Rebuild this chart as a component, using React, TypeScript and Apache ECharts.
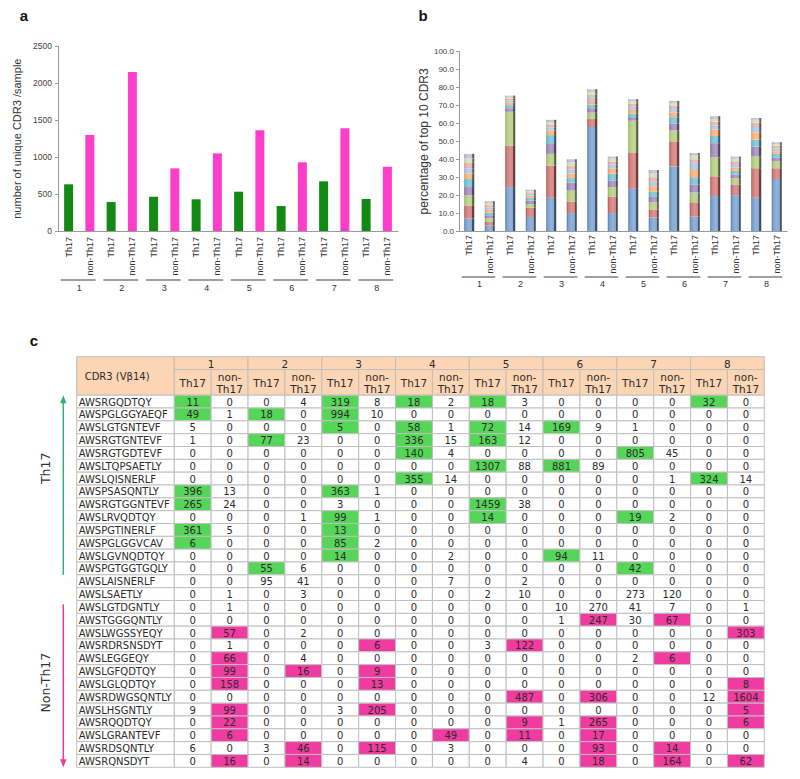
import React, { useEffect, useRef } from "react";
import * as echarts from "echarts";

// ---------- shared categories ----------
const SAMPLES = ["1", "2", "3", "4", "5", "6", "7", "8"];
const CELL_TYPES = ["Th17", "non-Th17"];

// ---------- panel a: number of unique CDR3 per sample ----------
const uniqueTh17 = [632, 392, 464, 429, 532, 338, 672, 433];
const uniqueNonTh17 = [1299, 2152, 848, 1051, 1363, 930, 1390, 870];

// ---------- panel b: % of reads taken by each of the top-10 CDR3 ----------
// bar order: Th17-1, non-Th17-1, Th17-2, non-Th17-2, ...
const top1 = [7, 3, 24.5, 7.8, 18.5, 10, 58, 10, 23.5, 7.5, 36, 8, 19.5, 20, 18.5, 29];
const top2 = [7, 2, 23, 5.2, 18, 6.5, 4.5, 9, 20, 4.5, 14, 8, 11, 6, 16.5, 6];
const top3 = [6, 2, 19, 2, 6.5, 6, 3.5, 5.5, 18, 4, 6, 5.5, 10.5, 3.5, 6.5, 4];
const top4 = [4.5, 1.8, 2, 2, 5.5, 4.5, 2.5, 3.5, 2, 3, 4, 4.5, 8, 2, 5.5, 2];
const top5 = [4.5, 1.5, 1.7, 1.5, 5, 2.5, 2, 4, 2, 3, 3.5, 4, 4, 2, 4, 2];
const top6 = [3, 1.5, 1.5, 1.2, 2.5, 2.5, 2, 3, 2, 3, 2.5, 4, 3.5, 2, 4, 1.5];
const top7 = [3, 1.3, 1.2, 1, 1.8, 2.2, 1.8, 2, 1.8, 2.5, 2, 4, 2.5, 1.8, 3, 1.5];
const top8 = [3, 1.3, 1, 0.9, 1.6, 2, 1.7, 1.8, 1.6, 2.5, 2, 2, 2, 1.6, 2.5, 1.5];
const top9 = [2.5, 1.2, 0.9, 0.7, 1.4, 2, 1.6, 1.5, 1.4, 2, 1.5, 2, 1.5, 1.4, 1.5, 1];
const top10 = [2.5, 1, 0.7, 0.7, 1.2, 1.8, 1.4, 1.2, 1.2, 2, 1, 1.5, 1.5, 1.2, 1, 1];

// ---------- panel c: CDR3 (Vβ14) read counts ----------
const cdr3Sequences = [
  "AWSRGQDTQY", "AWSPGLGGYAEQF", "AWSLGTGNTEVF", "AWSRGTGNTEVF", "AWSRGTGDTEVF",
  "AWSLTQPSAETLY", "AWSLQISNERLF", "AWSPSASQNTLY", "AWSRGTGGNTEVF", "AWSLRVQDTQY",
  "AWSPGTINERLF", "AWSPGLGGVCAV", "AWSLGVNQDTQY", "AWSPGTGGTGQLY", "AWSLAISNERLF",
  "AWSLSAETLY", "AWSLGTDGNTLY", "AWSTGGGQNTLY", "AWSLWGSSYEQY", "AWSRDRSNSDYT",
  "AWSLEGGEQY", "AWSLGFQDTQY", "AWSLGLQDTQY", "AWSRDWGSQNTLY", "AWSLHSGNTLY",
  "AWSRQQDTQY", "AWSLGRANTEVF", "AWSRDSQNTLY", "AWSRQNSDYT",
];
// columns: Th17-1, non-Th17-1, Th17-2, non-Th17-2, ... Th17-8, non-Th17-8
const countRows = [
  [11, 0, 0, 4, 319, 8, 18, 2, 18, 3, 0, 0, 0, 0, 32, 0],
  [49, 1, 18, 0, 994, 10, 0, 0, 0, 0, 0, 0, 0, 0, 0, 0],
  [5, 0, 0, 0, 5, 0, 58, 1, 72, 14, 169, 9, 1, 0, 0, 0],
  [1, 0, 77, 23, 0, 0, 336, 15, 163, 12, 0, 0, 0, 0, 0, 0],
  [0, 0, 0, 0, 0, 0, 140, 4, 0, 0, 0, 0, 805, 45, 0, 0],
  [0, 0, 0, 0, 0, 0, 0, 0, 1307, 88, 881, 89, 0, 0, 0, 0],
  [0, 0, 0, 0, 0, 0, 355, 14, 0, 0, 0, 0, 0, 1, 324, 14],
  [396, 13, 0, 0, 363, 1, 0, 0, 0, 0, 0, 0, 0, 0, 0, 0],
  [265, 24, 0, 0, 3, 0, 0, 0, 1459, 38, 0, 0, 0, 0, 0, 0],
  [0, 0, 0, 1, 99, 1, 0, 0, 14, 0, 0, 0, 19, 2, 0, 0],
  [361, 5, 0, 0, 13, 0, 0, 0, 0, 0, 0, 0, 0, 0, 0, 0],
  [6, 0, 0, 0, 85, 2, 0, 0, 0, 0, 0, 0, 0, 0, 0, 0],
  [0, 0, 0, 0, 14, 0, 0, 2, 0, 0, 94, 11, 0, 0, 0, 0],
  [0, 0, 55, 6, 0, 0, 0, 0, 0, 0, 0, 0, 42, 0, 0, 0],
  [0, 0, 95, 41, 0, 0, 0, 7, 0, 2, 0, 0, 0, 0, 0, 0],
  [0, 1, 0, 3, 0, 0, 0, 0, 2, 10, 0, 0, 273, 120, 0, 0],
  [0, 1, 0, 0, 0, 0, 0, 0, 0, 0, 10, 270, 41, 7, 0, 1],
  [0, 0, 0, 0, 0, 0, 0, 0, 0, 0, 1, 247, 30, 67, 0, 0],
  [0, 57, 0, 2, 0, 0, 0, 0, 0, 0, 0, 0, 0, 0, 0, 303],
  [0, 1, 0, 0, 0, 6, 0, 0, 3, 122, 0, 0, 0, 0, 0, 0],
  [0, 66, 0, 4, 0, 0, 0, 0, 0, 0, 0, 0, 2, 6, 0, 0],
  [0, 99, 0, 16, 0, 9, 0, 0, 0, 0, 0, 0, 0, 0, 0, 0],
  [0, 158, 0, 0, 0, 13, 0, 0, 0, 0, 0, 0, 0, 0, 0, 8],
  [0, 0, 0, 0, 0, 0, 0, 0, 0, 487, 0, 306, 0, 0, 12, 1604],
  [9, 99, 0, 0, 3, 205, 0, 0, 0, 0, 0, 0, 0, 0, 0, 5],
  [0, 22, 0, 0, 0, 0, 0, 0, 0, 9, 1, 265, 0, 0, 0, 6],
  [0, 6, 0, 0, 0, 0, 0, 49, 0, 11, 0, 17, 0, 0, 0, 0],
  [6, 0, 3, 46, 0, 115, 0, 3, 0, 0, 0, 93, 0, 14, 0, 0],
  [0, 16, 0, 14, 0, 0, 0, 0, 0, 4, 0, 18, 0, 164, 0, 62],
];
// columns (per row) where the clonotype is among the top 10 of that sample
const topTenColumns = [
  [0, 4, 6, 8, 14], [0, 2, 4], [4, 6, 8, 10], [2, 6, 8], [6, 12], [8, 10], [6, 14],
  [0, 4], [0, 8], [4, 8, 12], [0, 4], [0, 4], [4, 10], [2, 12], [], [], [],
  [11, 13], [1, 15], [5, 9], [1, 13], [1, 3, 5], [1, 5, 15], [9, 11, 15], [1, 5, 15],
  [1, 9, 11, 15], [1, 7, 9, 11], [3, 5, 11, 13], [1, 3, 11, 13, 15],
];

// ---------- styling ----------
const ARIAL = "Liberation Sans";
const VERDANA = "DejaVu Sans";
const GREEN_BAR = "#138A13";
const PINK_BAR = "#FF3DCB";
const SEG_COLORS = ["#4F81BD", "#C0504D", "#9BBB59", "#8064A2", "#4BACC6", "#F79646", "#95B3D7", "#D99694", "#C3D69B", "#B3A2C7"];
const HEADER_FILL = "#FCD5B4";
const GRID_STROKE = "#BFBFBF";
const TOP_GREEN = "#55D658";
const TOP_PINK = "#F03CA0";
const NAME_COL_W = 2.647;

function shade(hex: string, f: number) {
  const n = parseInt(hex.slice(1), 16);
  let r = (n >> 16) & 255, g = (n >> 8) & 255, b = n & 255;
  if (f < 0) { r *= 1 + f; g *= 1 + f; b *= 1 + f; }
  else { r += (255 - r) * f; g += (255 - g) * f; b += (255 - b) * f; }
  return `rgb(${Math.round(r)},${Math.round(g)},${Math.round(b)})`;
}
function barGradient(base: string) {
  return {
    type: "linear", x: 0, y: 0, x2: 1, y2: 0,
    colorStops: [
      { offset: 0, color: shade(base, -0.1) },
      { offset: 0.15, color: shade(base, 0.25) },
      { offset: 0.5, color: shade(base, 0.4) },
      { offset: 0.78, color: shade(base, 0.3) },
      { offset: 0.8, color: shade(base, -0.3) },
      { offset: 1, color: "#444444" },
    ],
  };
}

function groupLines(xAxisIndex: number, yAxisIndex: number, drop: number) {
  return {
    type: "custom", xAxisIndex, yAxisIndex, silent: true, clip: false,
    data: SAMPLES.map((_, i) => [i, 0]),
    renderItem: (_p: any, api: any) => {
      const c = api.coord([api.value(0), 0]);
      const bw = api.size([1, 0])[0];
      const half = bw * 0.41;
      return {
        type: "line",
        shape: { x1: c[0] - half - 1, y1: c[1] + drop, x2: c[0] + half - 1, y2: c[1] + drop },
        style: { stroke: "#7f7f7f", lineWidth: 1.5 },
      };
    },
  };
}

type Cell = { x: number; y: number; w: number; h: number; text: string; fill: string; align: string; size: number; lh?: number };

function buildCells(): Cell[] {
  const cells: Cell[] = [];
  cells.push({ x: 0, y: 0, w: NAME_COL_W, h: 3, text: "CDR3 (Vβ14)", fill: HEADER_FILL, align: "left", size: 10 });
  SAMPLES.forEach((s, i) => {
    cells.push({ x: NAME_COL_W + 2 * i, y: 0, w: 2, h: 1, text: s, fill: HEADER_FILL, align: "center", size: 10.5 });
  });
  SAMPLES.forEach((_, i) => {
    cells.push({ x: NAME_COL_W + 2 * i, y: 1, w: 1, h: 2, text: CELL_TYPES[0], fill: HEADER_FILL, align: "center", size: 10.5 });
    cells.push({ x: NAME_COL_W + 2 * i + 1, y: 1, w: 1, h: 2, text: "non-\nTh17", fill: HEADER_FILL, align: "center", size: 10.5, lh: 12 });
  });
  cdr3Sequences.forEach((name, r) => {
    cells.push({ x: 0, y: 3 + r, w: NAME_COL_W, h: 1, text: name, fill: "#ffffff", align: "left", size: 10 });
    countRows[r].forEach((v, c) => {
      const top = topTenColumns[r].includes(c);
      const fill = top ? (c % 2 === 0 ? TOP_GREEN : TOP_PINK) : "#ffffff";
      cells.push({ x: NAME_COL_W + c, y: 3 + r, w: 1, h: 1, text: String(v), fill, align: "center", size: 10 });
    });
  });
  return cells;
}

function buildOption() {
  const labels16 = SAMPLES.flatMap(() => CELL_TYPES);
  const cells = buildCells();
  const topShares = [top1, top2, top3, top4, top5, top6, top7, top8, top9, top10];
  const axisLineStyle = { lineStyle: { color: "#9a9a9a", width: 1 } };
  const xCat = (gridIndex: number, margin: number) => ({
    type: "category", gridIndex, data: labels16,
    axisLine: axisLineStyle, axisTick: { show: false },
    axisLabel: { rotate: 90, interval: 0, fontSize: 9, fontFamily: ARIAL, color: "#333", margin },
  });
  const xGroup = (gridIndex: number, offset: number) => ({
    type: "category", gridIndex, data: SAMPLES, position: "bottom", offset,
    axisLine: { show: false }, axisTick: { show: false },
    axisLabel: { fontSize: 9, fontFamily: ARIAL, color: "#333", margin: 2 },
  });

  return {
    animation: false,
    backgroundColor: "#ffffff",
    grid: [
      { left: 58, top: 46.3, width: 340, height: 184.7 },
      { left: 459, top: 51.7, width: 328, height: 179.3 },
      { left: 76.7, top: 356.7, width: 687.6, height: 410.6 },
    ],
    xAxis: [
      xCat(0, 6),
      xGroup(0, 50),
      xCat(1, 4),
      xGroup(1, 46),
      { type: "value", gridIndex: 2, min: 0, max: NAME_COL_W + 16, show: false },
    ],
    yAxis: [
      {
        type: "value", gridIndex: 0, min: 0, max: 2500, interval: 500,
        name: "number of unique CDR3 /sample", nameLocation: "middle", nameGap: 36,
        nameTextStyle: { fontSize: 11, fontFamily: ARIAL, color: "#333" },
        axisLine: { show: true, ...axisLineStyle },
        axisTick: { show: true, length: 3, lineStyle: { color: "#9a9a9a" } },
        axisLabel: { fontSize: 8.5, fontFamily: ARIAL, color: "#404040", margin: 6, formatter: (v: number) => String(v) },
        splitLine: { show: false },
      },
      {
        type: "value", gridIndex: 1, min: 0, max: 100, interval: 10,
        name: "percentage of top 10 CDR3", nameLocation: "middle", nameGap: 28,
        nameTextStyle: { fontSize: 12, fontFamily: ARIAL, color: "#333" },
        axisLine: { show: true, ...axisLineStyle },
        axisTick: { show: true, length: 3, lineStyle: { color: "#9a9a9a" } },
        axisLabel: { fontSize: 8, fontFamily: ARIAL, color: "#404040", margin: 5, formatter: (v: number) => v.toFixed(1) },
        splitLine: { show: false },
      },
      { type: "value", gridIndex: 2, min: 0, max: 32, inverse: true, show: false },
    ],
    series: [
      {
        type: "bar", xAxisIndex: 0, yAxisIndex: 0, barWidth: 9,
        data: SAMPLES.flatMap((_, i) => [
          { value: uniqueTh17[i], itemStyle: { color: GREEN_BAR } },
          { value: uniqueNonTh17[i], itemStyle: { color: PINK_BAR } },
        ]),
      },
      groupLines(1, 0, 49),
      ...topShares.map((arr, k) => ({
        type: "bar", stack: "top10", xAxisIndex: 2, yAxisIndex: 1, barWidth: 10,
        data: arr,
        itemStyle: { color: barGradient(SEG_COLORS[k]) },
      })),
      groupLines(3, 1, 46),
      {
        type: "custom", xAxisIndex: 4, yAxisIndex: 2, silent: true, clip: false,
        data: cells.map((c) => [c.x, c.y, c.w, c.h]),
        renderItem: (params: any, api: any) => {
          const cell = cells[params.dataIndex];
          const p = api.coord([api.value(0), api.value(1)]);
          const s = api.size([api.value(2), api.value(3)]);
          const left = cell.align === "left";
          const pad = cell.y === 0 && left ? 8 : 2;
          return {
            type: "group",
            children: [
              {
                type: "rect",
                shape: { x: p[0], y: p[1], width: s[0], height: s[1] },
                style: { fill: cell.fill, stroke: GRID_STROKE, lineWidth: 1 },
              },
              {
                type: "text",
                style: {
                  text: cell.text,
                  x: left ? p[0] + pad : p[0] + s[0] / 2,
                  y: p[1] + s[1] / 2 + 0.5,
                  align: left ? "left" : "center",
                  verticalAlign: "middle",
                  fill: "#2b2b2b",
                  fontSize: cell.size,
                  fontFamily: VERDANA,
                  lineHeight: cell.lh || cell.size + 2,
                },
              },
            ],
          };
        },
      },
    ],
  };
}

export default function App() {
  const ref = useRef<HTMLDivElement>(null);
  useEffect(() => {
    document.body.style.margin = "0";
    const chart = echarts.init(ref.current!, null, { renderer: "svg" });
    chart.setOption(buildOption() as any);

    const px = (x: number, y: number) => chart.convertToPixel({ gridIndex: 2 } as any, [x, y]) as number[];
    const tableLeft = px(0, 0)[0];
    const ax = tableLeft - 13.4;
    const lx = tableLeft - 31.7;
    const gTop = px(0, 3)[1];
    const gEnd = px(0, 3 + 14)[1];
    const pStart = px(0, 3 + 16.3)[1];
    const pBottom = px(0, 32)[1];
    const GREEN_ARROW = "#2FB27A";
    const PINK_ARROW = "#E23C9E";
    const letter = (t: string, x: number, y: number) => ({
      type: "text", x, y,
      style: { text: t, fontSize: 15, fontWeight: "bold", fontFamily: ARIAL, fill: "#111", align: "center", verticalAlign: "middle" },
    });
    chart.setOption({
      graphic: [
        letter("a", 24, 15),
        letter("b", 423, 15),
        letter("c", 34, 340),
        { type: "line", shape: { x1: ax, y1: gTop + 6, x2: ax, y2: gEnd }, style: { stroke: GREEN_ARROW, lineWidth: 1.5 } },
        { type: "polygon", shape: { points: [[ax, gTop], [ax - 3.2, gTop + 8], [ax + 3.2, gTop + 8]] }, style: { fill: GREEN_ARROW } },
        { type: "line", shape: { x1: ax, y1: pStart, x2: ax, y2: pBottom - 6 }, style: { stroke: PINK_ARROW, lineWidth: 1.5 } },
        { type: "polygon", shape: { points: [[ax, pBottom], [ax - 3.2, pBottom - 8], [ax + 3.2, pBottom - 8]] }, style: { fill: PINK_ARROW } },
        {
          type: "text", x: lx, y: px(0, 3 + 5.7)[1], rotation: Math.PI / 2,
          style: { text: "Th17", fontSize: 12.5, fontFamily: VERDANA, fill: "#333", align: "center", verticalAlign: "middle" },
        },
        {
          type: "text", x: lx, y: px(0, 3 + 22.4)[1], rotation: Math.PI / 2,
          style: { text: "Non-Th17", fontSize: 12.5, fontFamily: VERDANA, fill: "#333", align: "center", verticalAlign: "middle" },
        },
      ],
    } as any);
    return () => chart.dispose();
  }, []);
  return <div ref={ref} style={{ width: 800, height: 779 }} />;
}
